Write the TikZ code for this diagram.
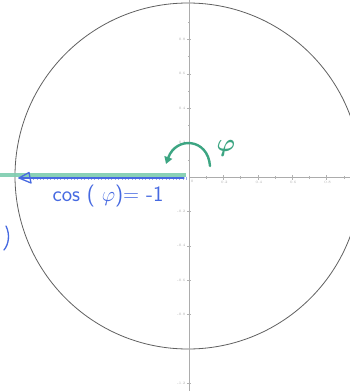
\documentclass[tikz,border=0pt]{standalone}
\usepackage{bm}
\usetikzlibrary{arrows.meta}
\definecolor{penblue}{RGB}{70,105,225}
\definecolor{pengreen}{RGB}{60,165,130}
\definecolor{hilite}{RGB}{125,205,175}
\begin{document}
\begin{tikzpicture}[x=1pt,y=-1pt,
  axisline/.style={draw=gray!65,line width=0.6pt},
  tickmark/.style={draw=gray!60,line width=0.4pt},
  ticklab/.style={font=\fontsize{3.6}{4}\selectfont,text=gray!65,inner sep=0.6pt},
  bluepen/.style={draw=penblue,line width=1.3pt,line cap=round,line join=round},
  greenpen/.style={draw=pengreen,line width=2.4pt,line cap=round},
  handtext/.style={font=\sffamily\fontsize{22}{24}\selectfont,text=penblue,inner sep=0}]
\useasboundingbox (0,0) rectangle (350,391);
\fill[white] (0,0) rectangle (350,391);
\coordinate (O) at (189,177);
% unit circle
\node[circle,draw=gray!75!black,line width=0.8pt,minimum size=346pt,inner sep=0pt] (circ) at (188,176) {};
% axes
\coordinate (ytop) at (189,0);
\coordinate (ybot) at (189,391);
\coordinate (xright) at (350,177);
\draw[axisline] (ytop) -- (ybot);
\draw[axisline] (O) -- (xright);
% y ticks and labels
\foreach \v/\lab in {-0.8/0.8,-0.6/0.6,-0.4/0.4,-0.2/0.2,0.2/-0.2,0.4/-0.4,0.6/-0.6,0.8/-0.8,1.2/-1.2}{
  \draw[tickmark] (187,177+172*\v) -- (191,177+172*\v);
  \node[ticklab,anchor=east] (yl\lab) at (186,177+172*\v) {\lab};
}
\foreach \k in {1,...,9}{\draw[tickmark] (188,177-17.2*\k) -- (190,177-17.2*\k);}
% x ticks and labels
\foreach \v/\lab in {0.2/0.2,0.4/0.4,0.6/0.6,0.8/0.8}{
  \draw[tickmark] (189+172*\v,175) -- (189+172*\v,179.5);
  \node[ticklab,anchor=north] (xl\lab) at (190+172*\v,180) {\lab};
}
\foreach \k in {1,...,9}{\draw[tickmark] (189+17.2*\k,176) -- (189+17.2*\k,178.5);}
\node[ticklab,anchor=north west] (zero) at (190,179) {0};
% green highlight
\coordinate (ga) at (0,175);
\coordinate (gb) at (186,175);
\draw[draw=hilite,line width=4pt,opacity=0.9] (ga) -- (gb);
% blue segment with ticks
\coordinate (ba) at (19,178);
\coordinate (bb) at (184,178);
\foreach \k in {0,...,46}{\draw[draw=penblue!55,line width=0.35pt] (30+3.4*\k,176.5) -- (30+3.4*\k,180);}
\draw[bluepen] (ba) -- (bb);
\coordinate (t1) at (29,172.5);
\coordinate (t2) at (31,183);
\draw[bluepen] (ba) -- (t1) -- (t2) -- cycle;
% angle arrow
\coordinate (aa) at (210,166);
\coordinate (ab) at (166,164);
\draw[greenpen,-{Triangle[length=7pt,width=8pt]}] (aa) .. controls (208,138) and (176,136) .. (ab);
\node[font=\fontsize{24}{26}\selectfont,text=pengreen,inner sep=0] (phi) at (226,148) {$\bm{\varphi}$};
% handwritten text
\node[handtext] (cosl) at (108,196) {cos ( $\varphi$)= -1};
\coordinate (p1) at (6,226);
\coordinate (p2) at (4,250);
\draw[bluepen] (p1) .. controls (10,234) and (9,244) .. (p2);
\end{tikzpicture}
\end{document}
